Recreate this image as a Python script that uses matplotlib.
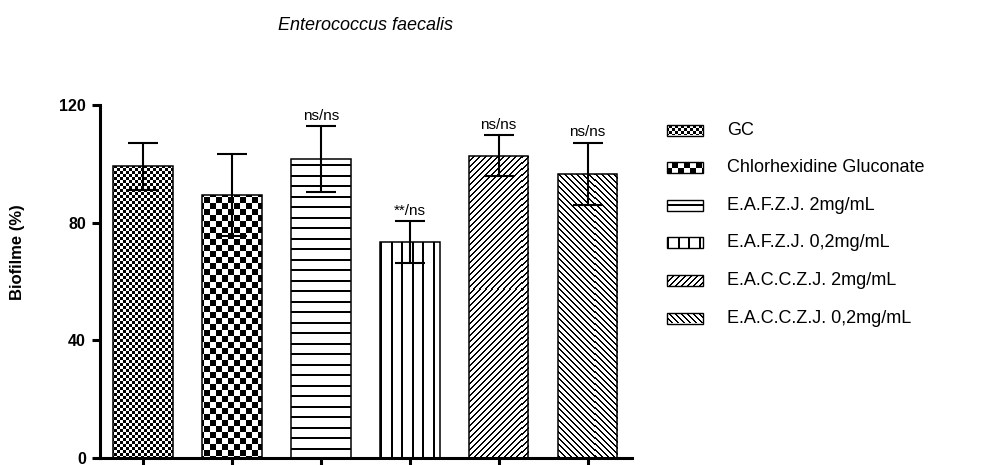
import numpy as np
import matplotlib
matplotlib.use('Agg')
import matplotlib.pyplot as plt
from matplotlib.colors import ListedColormap
from matplotlib.patches import Rectangle

plt.rcParams['font.family'] = ['Liberation Sans', 'DejaVu Sans']

groups = ["GC", "Chlorhexidine Gluconate", "E.A.F.Z.J. 2mg/mL",
          "E.A.F.Z.J. 0,2mg/mL", "E.A.C.C.Z.J. 2mg/mL", "E.A.C.C.Z.J. 0,2mg/mL"]
biofilm = [99.1, 89.5, 101.5, 73.4, 102.7, 96.5]
sd = [8.0, 14.0, 11.2, 7.1, 7.0, 10.6]
signif = ["", "", "ns/ns", "**/ns", "ns/ns", "ns/ns"]
fills = ["checker_fine", "checker", "hlines", "vlines", "diag", "antidiag"]

W, H = 1007, 465
fig = plt.figure(figsize=(W / 100, H / 100), dpi=100)
ax = fig.add_axes([100 / W, 7 / H, 532 / W, 353 / H])
ax.set_xlim(-0.485, 5.5)
ax.set_ylim(0, 120)
ax.set_autoscale_on(False)

bw_cmap = ListedColormap(["white", "black"])


def pattern(kind, I, J, r0, c0):
    if kind == "checker_fine":
        return (I // 3 + J // 3) % 2
    if kind == "checker":
        return (I // 6 + J // 6) % 2
    if kind == "hlines":
        # offset so a small legend box gets its stripe in the middle
        return ((I - r0 - 5) % 10.5) < 1.6
    if kind == "vlines":
        return ((J - c0) % 10.5) < 1.6
    if kind == "diag":
        return ((I + J) % 6) < 2
    return ((J - I) % 6) < 2


def texture(a, patch, kind):
    """fill a patch with a pixel pattern (GraphPad like fills)"""
    bb = patch.get_window_extent()
    cols = np.arange(int(np.floor(bb.x0)), int(np.ceil(bb.x1)))
    rows = np.arange(int(np.floor(H - bb.y1)), int(np.ceil(H - bb.y0)))
    J, I = np.meshgrid(cols, rows)
    arr = pattern(kind, I, J, rows[0], cols[0]).astype(float)
    inv = a.transData.inverted()
    ex0, ey0 = inv.transform((cols[0], H - (rows[-1] + 1)))
    ex1, ey1 = inv.transform((cols[-1] + 1, H - rows[0]))
    im = a.imshow(arr, extent=(ex0, ex1, ey0, ey1), origin="upper",
                  interpolation="nearest", aspect="auto", cmap=bw_cmap,
                  vmin=0, vmax=1, zorder=2)
    im.set_clip_path(patch)


x = np.arange(len(groups))
bars = ax.bar(x, biofilm, width=0.67, facecolor="none", edgecolor="black",
              linewidth=1.1, zorder=3)
for b, kind in zip(bars, fills):
    texture(ax, b, kind)
ax.errorbar(x, biofilm, yerr=sd, fmt="none", ecolor="black", elinewidth=1.5,
            capsize=11, capthick=1.5, zorder=4)
for xi, m, s, lab in zip(x, biofilm, sd, signif):
    if lab:
        ax.text(xi, m + s + 1.2, lab, ha="center", va="bottom", fontsize=11)

ax.set_xlim(-0.485, 5.5)
ax.set_ylim(0, 120)
ax.set_yticks([0, 40, 80, 120])
ax.set_xticks(x)
ax.set_xticklabels([])
for sp in ["top", "right"]:
    ax.spines[sp].set_visible(False)
for sp in ["left", "bottom"]:
    ax.spines[sp].set_linewidth(2.2)
ax.tick_params(axis="y", length=6, width=2.2, pad=4, labelsize=11.5)
ax.tick_params(axis="x", length=5, width=2.2)
for t in ax.get_yticklabels():
    t.set_fontweight("bold")

fig.text(18 / W, 1 - 252 / H, "Biofilme (%)", rotation=90, ha="center",
         va="center", fontsize=12, fontweight="bold")
fig.text(365 / W, 1 - 25 / H, "Enterococcus faecalis", ha="center",
         va="center", fontsize=13, style="italic")

# legend drawn by hand so the pixel fills can be reused
lax = fig.add_axes([0, 0, 1, 1])
lax.set_xlim(0, W)
lax.set_ylim(H, 0)
lax.set_autoscale_on(False)
lax.axis("off")
for k, (lab, kind) in enumerate(zip(groups, fills)):
    yc = 130 + k * 37.6
    r = Rectangle((667, yc - 5.5), 36, 11, facecolor="none",
                  edgecolor="black", linewidth=1.0, zorder=3)
    lax.add_patch(r)
    texture(lax, r, kind)
    lax.text(727, yc, lab, ha="left", va="center", fontsize=13)

fig.savefig("out.png", dpi=100)
